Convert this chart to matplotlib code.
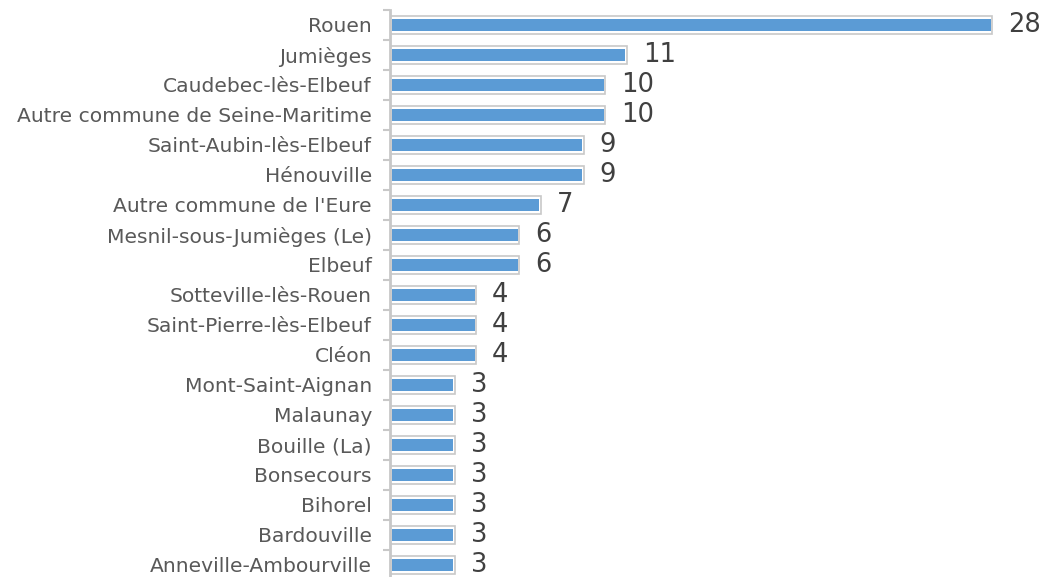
import matplotlib.pyplot as plt
import numpy as np

communes = ["Rouen", "Jumièges", "Caudebec-lès-Elbeuf", "Autre commune de Seine-Maritime",
            "Saint-Aubin-lès-Elbeuf", "Hénouville", "Autre commune de l'Eure",
            "Mesnil-sous-Jumièges (Le)", "Elbeuf", "Sotteville-lès-Rouen",
            "Saint-Pierre-lès-Elbeuf", "Cléon", "Mont-Saint-Aignan", "Malaunay",
            "Bouille (La)", "Bonsecours", "Bihorel", "Bardouville", "Anneville-Ambourville"]
effectifs = [28, 11, 10, 10, 9, 9, 7, 6, 6, 4, 4, 4, 3, 3, 3, 3, 3, 3, 3]

fig = plt.figure(figsize=(10.48, 5.77), dpi=100)
ax = fig.add_axes([390 / 1048, -3 / 577, 658 / 1048, 570 / 577])

y = np.arange(len(communes))
# cadre blanc à bord gris, puis barre bleue à l'intérieur
ax.barh(y, effectifs, height=0.62, color="white", edgecolor="#c8c8c8", linewidth=1.2)
ax.barh(y, np.array(effectifs) - 0.14, left=0.07, height=0.4, color="#5b9bd5", edgecolor="none")

for yi, v in zip(y, effectifs):
    ax.text(v + 0.75, yi, str(v), va="center", ha="left", fontsize=18.5, color="#404040")

ax.set_xlim(0, 30.6)
ax.set_ylim(len(communes) - 0.5, -0.5)
ax.set_yticks(y)
ax.set_yticklabels(communes, fontsize=14.6, color="#595959")
ax.set_yticks(np.arange(len(communes) + 1) - 0.5, minor=True)
ax.tick_params(axis="y", which="major", length=0, pad=13)
ax.tick_params(axis="y", which="minor", length=5, width=1.5, color="#c8c8c8")
ax.set_xticks([])
for s in ["top", "right", "bottom"]:
    ax.spines[s].set_visible(False)
ax.spines["left"].set_color("#c8c8c8")
ax.spines["left"].set_linewidth(2)

fig.savefig("out.png", dpi=100)
